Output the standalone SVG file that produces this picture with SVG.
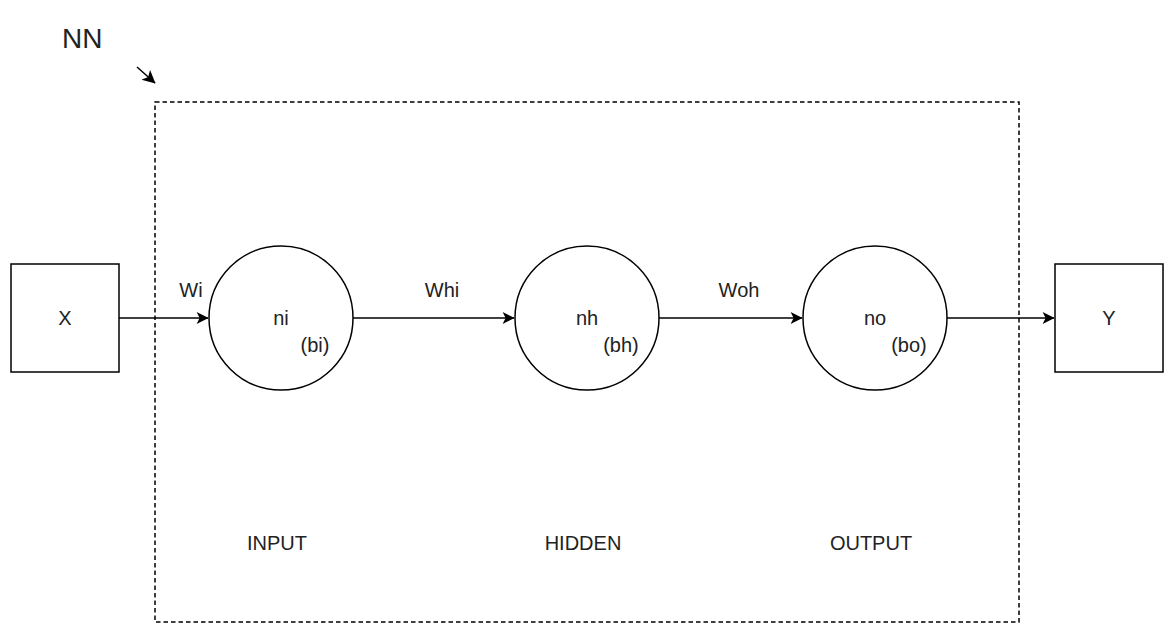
<svg xmlns="http://www.w3.org/2000/svg" width="1174" height="642" viewBox="0 0 1174 642">
<style>
text{font-family:"Liberation Sans",Arial,sans-serif;fill:#222;font-size:20px}
.m{text-anchor:middle}
.shape{fill:#fff;stroke:#000;stroke-width:1.5}
.edge{fill:none;stroke:#000;stroke-width:1.5}
</style>
<defs>
<marker id="ah" viewBox="0 0 10 10" refX="9.5" refY="5" markerWidth="13" markerHeight="12" markerUnits="userSpaceOnUse" orient="auto">
<path d="M0,0 L10,5 L0,10 L2.5,5 Z" fill="#000"/>
</marker>
<marker id="ahs" viewBox="0 0 10 10" refX="9.5" refY="5" markerWidth="14" markerHeight="13" markerUnits="userSpaceOnUse" orient="auto">
<path d="M0,0 L10,5 L0,10 L2.5,5 Z" fill="#000"/>
</marker>
</defs>
<rect width="1174" height="642" fill="#fff"/>
<g id="nn-frame">
<rect x="155" y="102" width="864" height="520" fill="none" stroke="#000" stroke-width="1.5" stroke-dasharray="4.5 3"/>
<text x="62" y="48" style="font-size:28px">NN</text>
</g>
<g id="layer-labels">
<text class="m" x="277" y="550">INPUT</text>
<text class="m" x="583" y="550">HIDDEN</text>
<text class="m" x="871" y="550">OUTPUT</text>
</g>
<g id="node-x"><rect class="shape" x="11" y="264" width="108" height="108"/><text class="m" x="65" y="325">X</text></g>
<g id="node-y"><rect class="shape" x="1055" y="264" width="108" height="108"/><text class="m" x="1109" y="325">Y</text></g>
<g id="node-ni"><circle class="shape" cx="281" cy="318" r="72"/><text class="m" x="281" y="325">ni</text><text class="m" x="315" y="352">(bi)</text></g>
<g id="node-nh"><circle class="shape" cx="587" cy="318" r="72"/><text class="m" x="587" y="325">nh</text><text class="m" x="621" y="352">(bh)</text></g>
<g id="node-no"><circle class="shape" cx="875" cy="318" r="72"/><text class="m" x="875" y="325">no</text><text class="m" x="909" y="352">(bo)</text></g>
<g id="connectors">
<line class="edge" x1="119" y1="318" x2="208" y2="318" marker-end="url(#ah)"/>
<line class="edge" x1="353" y1="318" x2="514" y2="318" marker-end="url(#ah)"/>
<line class="edge" x1="659" y1="318" x2="802" y2="318" marker-end="url(#ah)"/>
<line class="edge" x1="947" y1="318" x2="1054" y2="318" marker-end="url(#ah)"/>
<line class="edge" x1="137" y1="67" x2="155" y2="83" marker-end="url(#ahs)"/>
<text class="m" x="191" y="297">Wi</text>
<text class="m" x="442" y="297">Whi</text>
<text class="m" x="739" y="297">Woh</text>
</g>
</svg>
